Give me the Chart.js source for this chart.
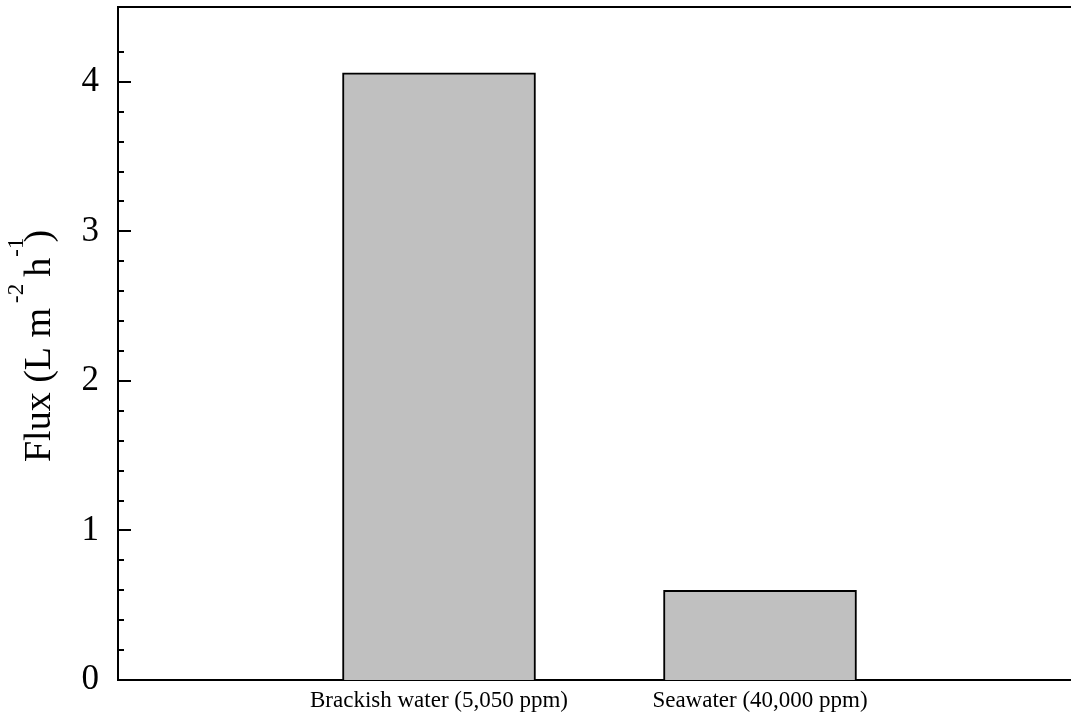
<!DOCTYPE html>
<html>
<head>
<meta charset="utf-8">
<script src="https://cdn.jsdelivr.net/npm/chart.js@4/dist/chart.umd.min.js"></script>
<style>
  html, body { margin: 0; padding: 0; background: #fff; overflow: hidden; }
</style>
</head>
<body>
<canvas id="fluxChart" width="1081" height="726"></canvas>
<script>
// categories (blank slots either side give the empty space left and right)
const categories = ['', 'Brackish water (5,050 ppm)', 'Seawater (40,000 ppm)', ''];
const fluxValues = [null, 4.06, 0.6, null];
const yMin = 0;
const yMax = 4.5;
const yStep = 0.2;   // minor tick spacing, labels only on whole numbers

const serif = "'Liberation Serif', 'Times New Roman', serif";

// inward tick marks + top frame line + y title with superscripts
const framePlugin = {
    id: 'frameTicks',
    afterDraw: chart => {
        const ctx = chart.ctx;
        const area = chart.chartArea;
        const yScale = chart.scales.y;
        ctx.save();
        ctx.strokeStyle = '#000';
        ctx.lineWidth = 2;
        yScale.ticks.forEach(t => {
            const k = Math.round(t.value / yStep);
            if (Math.abs(k * yStep - t.value) > 1e-6 || t.value >= yMax) return;
            const py = Math.round(yScale.getPixelForValue(t.value));
            const major = Math.abs(t.value - Math.round(t.value)) < 1e-6;
            ctx.beginPath();
            ctx.moveTo(area.left, py);
            ctx.lineTo(area.left + (major ? 13 : 6), py);
            ctx.stroke();
        });
        // top frame
        ctx.beginPath();
        ctx.moveTo(area.left - 1, area.top);
        ctx.lineTo(area.right, area.top);
        ctx.stroke();

        // y axis title: Flux (L m-2 h-1), gap = space before the piece
        const parts = [
            { t: 'Flux (L m', sup: false, gap: 0 },
            { t: '-2', sup: true, gap: 5 },
            { t: 'h', sup: false, gap: 7 },
            { t: '-1', sup: true, gap: 1 },
            { t: ')', sup: false, gap: -5 }
        ];
        const mainFont = '38px ' + serif;
        const supFont = '23px ' + serif;
        let total = 0;
        parts.forEach(p => {
            ctx.font = p.sup ? supFont : mainFont;
            p.w = ctx.measureText(p.t).width;
            total += p.w + p.gap;
        });
        const cy = 346;
        ctx.translate(50, cy);
        ctx.rotate(-Math.PI / 2);
        ctx.fillStyle = '#000';
        ctx.textBaseline = 'alphabetic';
        let x = -total / 2;
        parts.forEach(p => {
            x += p.gap;
            ctx.font = p.sup ? supFont : mainFont;
            ctx.fillText(p.t, x, p.sup ? -27 : 0);
            x += p.w;
        });
        ctx.restore();
    }
};

new Chart(document.getElementById('fluxChart').getContext('2d'), {
    type: 'bar',
    data: {
        labels: categories,
        datasets: [{
            data: fluxValues,
            backgroundColor: '#c0c0c0',
            borderColor: '#000',
            borderWidth: 2,
            barThickness: 193
        }]
    },
    options: {
        responsive: false,
        animation: false,
        layout: { padding: { top: 7, left: 0, right: 0, bottom: 0 } },
        plugins: {
            legend: { display: false },
            tooltip: { enabled: false }
        },
        scales: {
            x: {
                offset: false,
                grid: { display: false, drawTicks: false },
                border: { display: true, color: '#000', width: 2 },
                ticks: {
                    color: '#000',
                    font: { family: serif, size: 23 },
                    padding: 7,
                    maxRotation: 0,
                    autoSkip: false
                },
                afterFit: scale => {
                    scale.height = 46;
                    scale.paddingLeft = 0;
                    scale.paddingRight = 0;
                }
            },
            y: {
                min: yMin,
                max: yMax,
                grid: { display: false, drawTicks: false },
                border: { display: true, color: '#000', width: 2 },
                ticks: {
                    stepSize: yStep,
                    autoSkip: false,
                    color: '#000',
                    padding: 19,
                    font: { family: serif, size: 35 },
                    callback: v => Math.abs(v - Math.round(v)) < 1e-6 ? String(Math.round(v)) : ''
                },
                afterFit: scale => {
                    scale.width = 118;
                    scale.paddingTop = 0;
                    scale.paddingBottom = 0;
                }
            }
        }
    },
    plugins: [framePlugin]
});
</script>
</body>
</html>
